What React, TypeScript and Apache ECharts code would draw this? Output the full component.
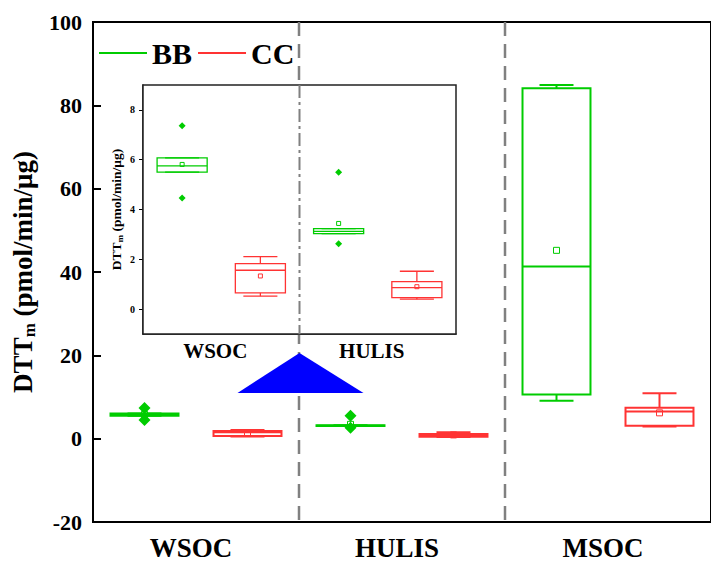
import React, { useEffect, useRef } from 'react';
import * as echarts from 'echarts';

// ---------- data ----------
const categories = ['WSOC', 'HULIS', 'MSOC'];
const insetCategories = ['WSOC', 'HULIS'];
const yTicksInset = [0, 2, 4, 6, 8];

// BB statistics per category
const bbWhiskerLow = [5.5, 3.03, 9.1];
const bbQ1 = [5.5, 3.03, 10.6];
const bbMedian = [5.75, 3.12, 41.3];
const bbQ3 = [6.07, 3.23, 84.1];
const bbWhiskerHigh = [6.07, 3.23, 84.9];
const bbMean = [5.81, 3.44, 45.2];
// CC statistics per category
const ccWhiskerLow = [0.52, 0.4, 2.9];
const ccQ1 = [0.65, 0.46, 3.1];
const ccMedian = [1.56, 0.86, 6.5];
const ccQ3 = [1.83, 1.1, 7.45];
const ccWhiskerHigh = [2.11, 1.52, 10.9];
const ccMean = [1.33, 0.9, 6.2];
// BB outliers: [categoryIndex, value]
const bbOutliers = [
  [0, 7.36],
  [0, 4.46],
  [1, 5.5],
  [1, 2.62],
];

const FONT = '"Liberation Serif", "Times New Roman", serif';
const GREEN = '#00CC00';
const RED = '#FF3333';
const GRAY = '#808080';

const buildRows = (lo: number[], q1: number[], med: number[], q3: number[], hi: number[], mean: number[], n: number) =>
  categories.slice(0, n).map((_, i) => [i, lo[i], q1[i], med[i], q3[i], hi[i], mean[i]]);

const bbRows = buildRows(bbWhiskerLow, bbQ1, bbMedian, bbQ3, bbWhiskerHigh, bbMean, 3);
const ccRows = buildRows(ccWhiskerLow, ccQ1, ccMedian, ccQ3, ccWhiskerHigh, ccMean, 3);
const bbRowsInset = buildRows(bbWhiskerLow, bbQ1, bbMedian, bbQ3, bbWhiskerHigh, bbMean, 2);
const ccRowsInset = buildRows(ccWhiskerLow, ccQ1, ccMedian, ccQ3, ccWhiskerHigh, ccMean, 2);
const bbOutliersInset = bbOutliers.filter((d) => d[0] < 2);

const boxRender =
  (side: number, boxRatio: number, capRatio: number, lw: number, meanSize: number) =>
  (params: any, api: any) => {
    const cat = api.value(0);
    const band = api.size([1, 0])[0];
    const cx = api.coord([cat, 0])[0] + (side * band) / 4;
    const w = band * boxRatio;
    const cw = w * capRatio;
    const y = (i: number) => api.coord([cat, api.value(i)])[1];
    const yLo = y(1),
      yQ1 = y(2),
      yMed = y(3),
      yQ3 = y(4),
      yHi = y(5),
      yMean = y(6);
    const color = api.visual('color');
    const st = { stroke: color, fill: 'none', lineWidth: lw };
    return {
      type: 'group',
      children: [
        { type: 'line', shape: { x1: cx, y1: yQ3, x2: cx, y2: yHi }, style: st },
        { type: 'line', shape: { x1: cx, y1: yQ1, x2: cx, y2: yLo }, style: st },
        { type: 'line', shape: { x1: cx - cw / 2, y1: yHi, x2: cx + cw / 2, y2: yHi }, style: st },
        { type: 'line', shape: { x1: cx - cw / 2, y1: yLo, x2: cx + cw / 2, y2: yLo }, style: st },
        { type: 'rect', shape: { x: cx - w / 2, y: yQ3, width: w, height: Math.max(yQ1 - yQ3, 0.5) }, style: st },
        { type: 'line', shape: { x1: cx - w / 2, y1: yMed, x2: cx + w / 2, y2: yMed }, style: st },
        {
          type: 'rect',
          shape: { x: cx - meanSize / 2, y: yMean - meanSize / 2, width: meanSize, height: meanSize },
          style: { stroke: color, fill: 'none', lineWidth: 1 },
        },
      ],
    };
  };

const outlierRender = (side: number, size: number) => (params: any, api: any) => {
  const cat = api.value(0);
  const band = api.size([1, 0])[0];
  const p = api.coord([cat, api.value(1)]);
  const cx = p[0] + (side * band) / 4;
  const cy = p[1];
  const r = size / 2;
  return {
    type: 'polygon',
    shape: { points: [[cx, cy - r], [cx + r, cy], [cx, cy + r], [cx - r, cy]] },
    style: { fill: api.visual('color') },
  };
};

const sepRender = (dash: number[], lw: number) => (params: any, api: any) => {
  const cat = api.value(0);
  const band = api.size([1, 0])[0];
  const x = api.coord([cat, 0])[0] + band / 2;
  const cs = params.coordSys;
  return {
    type: 'line',
    shape: { x1: x, y1: cs.y, x2: x, y2: cs.y + cs.height },
    style: { stroke: GRAY, lineWidth: lw, lineDash: dash },
  };
};

const MAIN = { left: 93, top: 22, width: 620, height: 500 };
const INSET = { left: 143, top: 85, width: 313, height: 249 };

export default function App() {
  const ref = useRef<HTMLDivElement>(null);
  useEffect(() => {
    if (!ref.current) return;
    const chart = echarts.init(ref.current, null, { renderer: 'svg' });
    const boundaryX = INSET.left + INSET.width / 2;
    const option: any = {
      animation: false,
      backgroundColor: '#fff',
      textStyle: { fontFamily: FONT },
      legend: {
        data: [
          { name: 'BB', itemStyle: { color: GREEN } },
          { name: 'CC', itemStyle: { color: RED } },
        ],
        icon: 'rect',
        left: 99,
        top: 38,
        itemWidth: 48,
        itemHeight: 2,
        itemGap: 6,
        padding: 0,
        textStyle: { fontSize: 30, fontWeight: 'bold', color: '#000', fontFamily: FONT },
      },
      grid: [
        { ...MAIN, show: true, borderColor: '#000', borderWidth: 2, backgroundColor: 'transparent' },
        { ...INSET, show: false },
      ],
      xAxis: [
        {
          type: 'category',
          gridIndex: 0,
          data: categories,
          axisLine: { onZero: false, lineStyle: { color: '#000', width: 2 } },
          axisTick: { show: false },
          axisLabel: { fontSize: 27, fontWeight: 'bold', color: '#000', fontFamily: FONT, margin: 12, padding: [0, 10, 0, 0] },
          splitLine: { show: false },
        },
        {
          type: 'category',
          gridIndex: 1,
          data: insetCategories,
          axisLine: { onZero: false, lineStyle: { color: '#000', width: 1.5 } },
          axisTick: { show: false },
          axisLabel: { fontSize: 21, fontWeight: 'bold', color: '#000', fontFamily: FONT, margin: 6, padding: [0, 12, 0, 0] },
          splitLine: { show: false },
        },
      ],
      yAxis: [
        {
          type: 'value',
          gridIndex: 0,
          min: -20,
          max: 100,
          interval: 20,
          axisLine: { show: true, onZero: false, lineStyle: { color: '#000', width: 2 } },
          axisTick: { show: true, inside: true, length: 8, lineStyle: { color: '#000', width: 2 } },
          axisLabel: { fontSize: 22, fontWeight: 'bold', color: '#000', fontFamily: FONT, margin: 11 },
          splitLine: { show: false },
          name: '{b|DTT}{s|m}{b| (pmol/min/μg)}',
          nameLocation: 'middle',
          nameRotate: 90,
          nameGap: 52,
          nameTextStyle: {
            rich: {
              b: { fontSize: 27, fontWeight: 'bold', fontFamily: FONT, color: '#000', lineHeight: 31 },
              s: { fontSize: 17, fontWeight: 'bold', fontFamily: FONT, color: '#000', lineHeight: 12, verticalAlign: 'bottom' },
            },
          },
        },
        {
          type: 'value',
          gridIndex: 1,
          min: -1,
          max: 9,
          axisLine: { show: true, onZero: false, lineStyle: { color: '#000', width: 1.5 } },
          axisTick: { show: true, inside: false, length: 4, customValues: yTicksInset, lineStyle: { color: '#000', width: 1 } },
          axisLabel: { customValues: yTicksInset, fontSize: 10, fontWeight: 'bold', color: '#000', fontFamily: FONT, margin: 8 },
          splitLine: { show: false },
          name: '{b|DTT}{s|m}{b| (pmol/min/μg)}',
          nameLocation: 'middle',
          nameRotate: 90,
          nameGap: 19,
          nameTextStyle: {
            rich: {
              b: { fontSize: 13.5, fontWeight: 'bold', fontFamily: FONT, color: '#000', lineHeight: 15 },
              s: { fontSize: 9, fontWeight: 'bold', fontFamily: FONT, color: '#000', lineHeight: 7, verticalAlign: 'bottom' },
            },
          },
        },
      ],
      graphic: [
        {
          type: 'polygon',
          z: 100,
          shape: {
            points: [
              [boundaryX, 353],
              [boundaryX - 62, 393],
              [boundaryX + 64, 393],
            ],
          },
          style: { fill: '#0000FF' },
        },
      ],
      series: [
        {
          type: 'custom',
          name: 'sepMain',
          xAxisIndex: 0,
          yAxisIndex: 0,
          z: 1,
          data: [[0, 0], [1, 0]],
          encode: { x: 0, y: 1 },
          renderItem: sepRender([14, 8], 2.5),
          silent: true,
        },
        {
          type: 'custom',
          name: 'BB',
          xAxisIndex: 0,
          yAxisIndex: 0,
          z: 2,
          itemStyle: { color: GREEN },
          data: bbRows,
          encode: { x: 0, y: [1, 2, 3, 4, 5, 6] },
          renderItem: boxRender(-1, 0.33, 0.5, 2, 6),
        },
        {
          type: 'custom',
          name: 'CC',
          xAxisIndex: 0,
          yAxisIndex: 0,
          z: 2,
          itemStyle: { color: RED },
          data: ccRows,
          encode: { x: 0, y: [1, 2, 3, 4, 5, 6] },
          renderItem: boxRender(1, 0.33, 0.5, 2, 6),
        },
        {
          type: 'custom',
          name: 'BB',
          xAxisIndex: 0,
          yAxisIndex: 0,
          z: 2,
          itemStyle: { color: GREEN },
          data: bbOutliers,
          encode: { x: 0, y: 1 },
          renderItem: outlierRender(-1, 12),
        },
        {
          type: 'custom',
          name: 'insetBg',
          xAxisIndex: 1,
          yAxisIndex: 1,
          z: 3,
          data: [[0, 0]],
          encode: { x: 0, y: 1 },
          silent: true,
          renderItem: (params: any) => {
            const cs = params.coordSys;
            return {
              type: 'rect',
              shape: { x: cs.x, y: cs.y, width: cs.width, height: cs.height },
              style: { fill: '#fff', stroke: '#222', lineWidth: 1.5 },
            };
          },
        },
        {
          type: 'custom',
          name: 'sepInset',
          xAxisIndex: 1,
          yAxisIndex: 1,
          z: 4,
          data: [[0, 0]],
          encode: { x: 0, y: 1 },
          silent: true,
          renderItem: sepRender([13, 4, 3, 4], 2),
        },
        {
          type: 'custom',
          name: 'BB',
          xAxisIndex: 1,
          yAxisIndex: 1,
          z: 5,
          itemStyle: { color: GREEN },
          data: bbRowsInset,
          encode: { x: 0, y: [1, 2, 3, 4, 5, 6] },
          renderItem: boxRender(-1, 0.32, 0.68, 1.3, 4),
        },
        {
          type: 'custom',
          name: 'CC',
          xAxisIndex: 1,
          yAxisIndex: 1,
          z: 5,
          itemStyle: { color: RED },
          data: ccRowsInset,
          encode: { x: 0, y: [1, 2, 3, 4, 5, 6] },
          renderItem: boxRender(1, 0.32, 0.68, 1.3, 4),
        },
        {
          type: 'custom',
          name: 'BB',
          xAxisIndex: 1,
          yAxisIndex: 1,
          z: 5,
          itemStyle: { color: GREEN },
          data: bbOutliersInset,
          encode: { x: 0, y: 1 },
          renderItem: outlierRender(-1, 7),
        },
      ],
    };
    chart.setOption(option);
    return () => chart.dispose();
  }, []);
  return <div ref={ref} style={{ position: 'absolute', left: 0, top: 0, width: 711, height: 562 }} />;
}
